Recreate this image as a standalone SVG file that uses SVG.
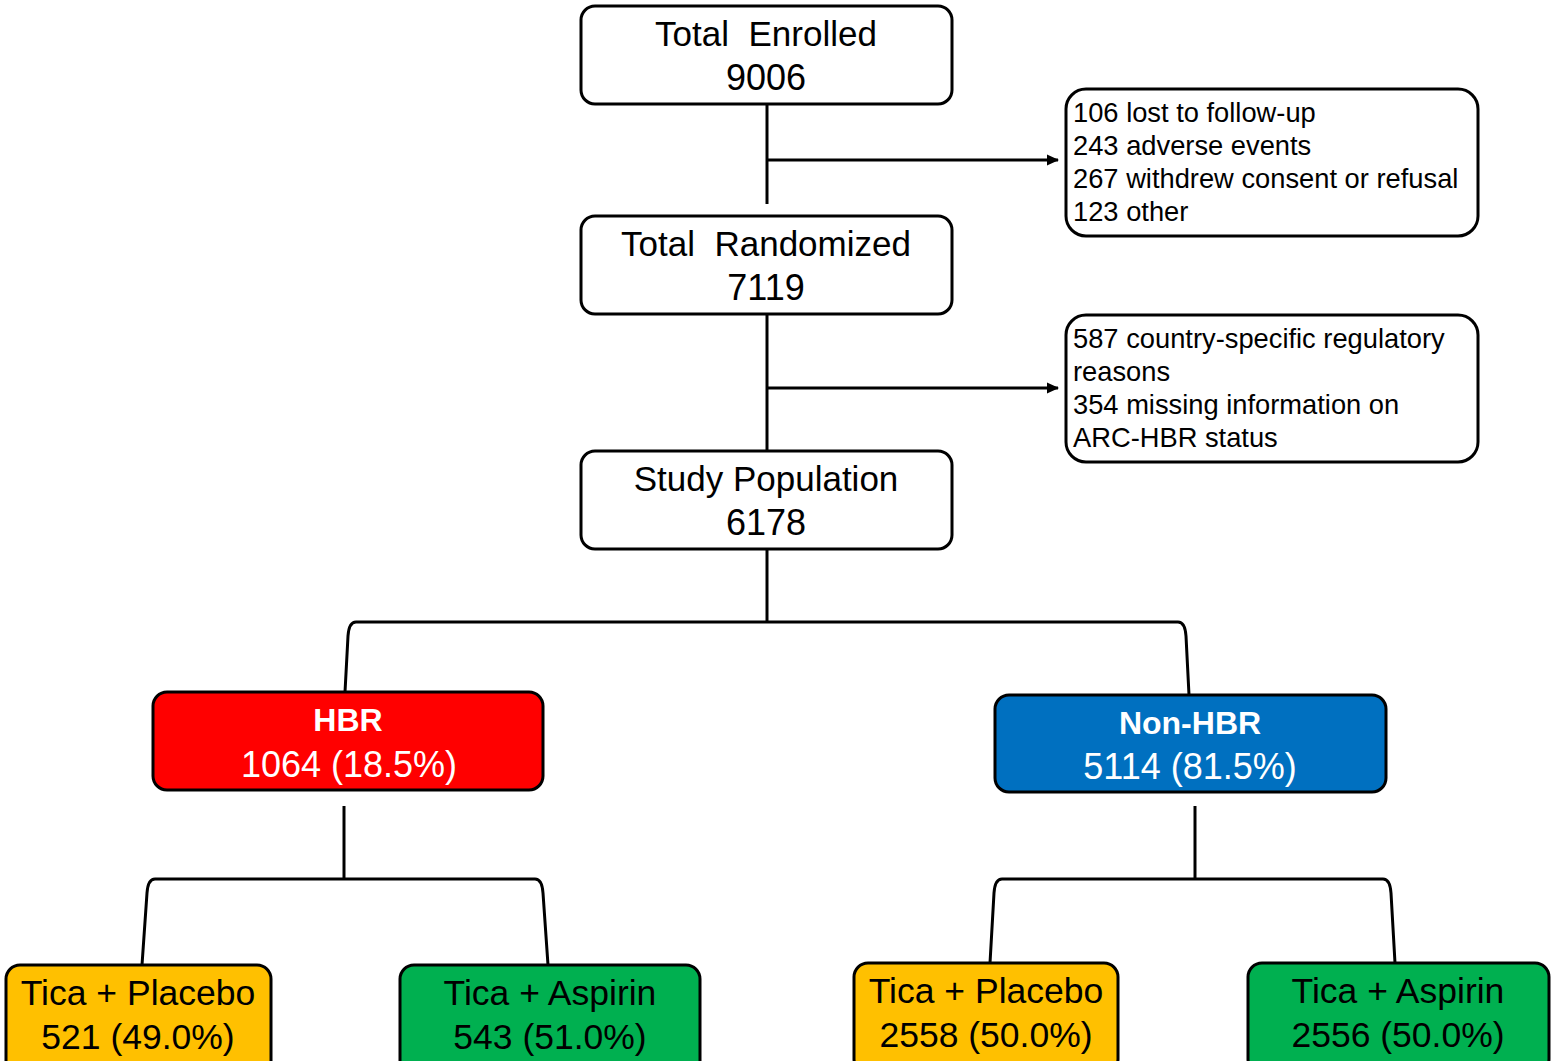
<svg xmlns="http://www.w3.org/2000/svg" width="1555" height="1061" viewBox="0 0 1555 1061">
<style>
.box{stroke:#000;stroke-width:3}
.wbox{fill:#fff}
.t{font-family:"Liberation Sans",Arial,sans-serif;text-anchor:middle;fill:#000}
.big{font-size:35px}
.num{font-size:36px}
.side{font-family:"Liberation Sans",Arial,sans-serif;font-size:27.3px;fill:#000}
.conn{fill:none;stroke:#000;stroke-width:3}
.w{fill:#fff}
</style>
<defs>
<marker id="ah" markerWidth="12" markerHeight="12" refX="11" refY="6" orient="auto" markerUnits="userSpaceOnUse">
<path d="M0,0.5 L12,6 L0,11.5 z" fill="#000"/>
</marker>
</defs>
<rect width="1555" height="1061" fill="#fff"/>
<g id="connectors">
<path class="conn" d="M767 104 V204"/>
<path class="conn" d="M767 160 H1058" stroke-width="2.5" marker-end="url(#ah)"/>
<path class="conn" d="M767 314 V451"/>
<path class="conn" d="M767 388 H1058" stroke-width="2.5" marker-end="url(#ah)"/>
<path class="conn" d="M767 549 V622"/>
<path class="conn" d="M767 622 H356 Q349 622 348 636 L345 692"/>
<path class="conn" d="M767 622 H1178 Q1185 622 1186 636 L1189 695"/>
<path class="conn" d="M344 806 V879"/>
<path class="conn" d="M344 879 H155 Q148 879 147 893 L142 965"/>
<path class="conn" d="M344 879 H535 Q542 879 543 893 L548 965"/>
<path class="conn" d="M1195 806 V879"/>
<path class="conn" d="M1195 879 H1002 Q995 879 994 893 L990 963"/>
<path class="conn" d="M1195 879 H1383 Q1390 879 1391 893 L1395 963"/>
</g>
<g id="enrolled">
<rect class="box wbox" x="581" y="6" width="371" height="98" rx="14"/>
<text class="t big" x="766" y="46" xml:space="preserve">Total  Enrolled</text>
<text class="t num" x="766" y="90">9006</text>
</g>
<g id="excluded1">
<rect class="box wbox" x="1066" y="89" width="412" height="147" rx="20"/>
<text class="side" x="1073" y="122">106 lost to follow-up</text>
<text class="side" x="1073" y="155">243 adverse events</text>
<text class="side" x="1073" y="188">267 withdrew consent or refusal</text>
<text class="side" x="1073" y="221">123 other</text>
</g>
<g id="randomized">
<rect class="box wbox" x="581" y="216" width="371" height="98" rx="14"/>
<text class="t big" x="766" y="256" xml:space="preserve">Total  Randomized</text>
<text class="t num" x="766" y="300">7119</text>
</g>
<g id="excluded2">
<rect class="box wbox" x="1066" y="315" width="412" height="147" rx="20"/>
<text class="side" x="1073" y="348">587 country-specific regulatory</text>
<text class="side" x="1073" y="381">reasons</text>
<text class="side" x="1073" y="414">354 missing information on</text>
<text class="side" x="1073" y="447">ARC-HBR status</text>
</g>
<g id="population">
<rect class="box wbox" x="581" y="451" width="371" height="98" rx="14"/>
<text class="t big" x="766" y="491">Study Population</text>
<text class="t num" x="766" y="535">6178</text>
</g>
<g id="hbr">
<rect class="box" fill="#FF0000" x="153" y="692" width="390" height="98" rx="14"/>
<text class="t w" x="348" y="731" font-size="32" font-weight="bold">HBR</text>
<text class="t w num" x="349" y="777">1064 (18.5%)</text>
</g>
<g id="nonhbr">
<rect class="box" fill="#0070C0" x="995" y="695" width="391" height="97" rx="14"/>
<text class="t w" x="1190" y="734" font-size="32" font-weight="bold">Non-HBR</text>
<text class="t w num" x="1190" y="779">5114 (81.5%)</text>
</g>
<g id="hbr-placebo">
<rect class="box" fill="#FFC000" x="6" y="965" width="265" height="110" rx="14"/>
<text class="t" x="138" y="1005" font-size="35.5">Tica + Placebo</text>
<text class="t" x="138" y="1049" font-size="35.5">521 (49.0%)</text>
</g>
<g id="hbr-aspirin">
<rect class="box" fill="#00B050" x="400" y="965" width="300" height="110" rx="14"/>
<text class="t" x="550" y="1005" font-size="35.5">Tica + Aspirin</text>
<text class="t" x="550" y="1049" font-size="35.5">543 (51.0%)</text>
</g>
<g id="nonhbr-placebo">
<rect class="box" fill="#FFC000" x="854" y="963" width="264" height="110" rx="14"/>
<text class="t" x="986" y="1003" font-size="35.5">Tica + Placebo</text>
<text class="t" x="986" y="1047" font-size="35.5">2558 (50.0%)</text>
</g>
<g id="nonhbr-aspirin">
<rect class="box" fill="#00B050" x="1248" y="963" width="301" height="110" rx="14"/>
<text class="t" x="1398" y="1003" font-size="35.5">Tica + Aspirin</text>
<text class="t" x="1398" y="1047" font-size="35.5">2556 (50.0%)</text>
</g>
</svg>
